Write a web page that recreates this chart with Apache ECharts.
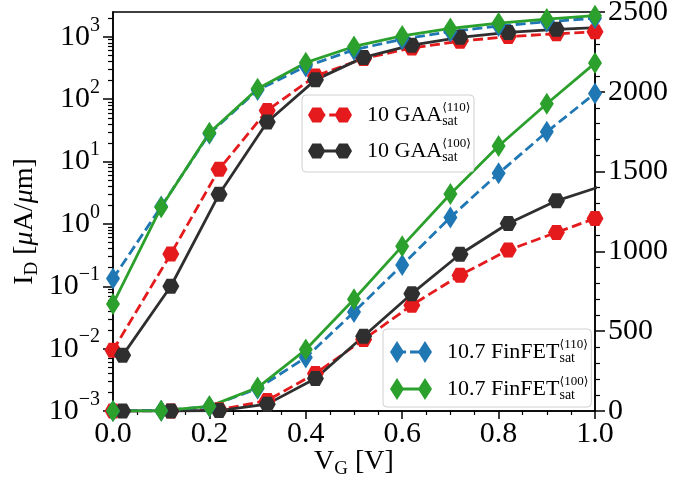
<!DOCTYPE html>
<html>
<head>
<meta charset="utf-8">
<script src="https://cdn.jsdelivr.net/npm/echarts@6/dist/echarts.min.js"></script>
<style>
  html, body { margin: 0; padding: 0; background: #fff; }
  #main { width: 683px; height: 481px; }
</style>
</head>
<body>
<div id="main"></div>
<script>
// gate voltage points (V)
var xFin = [0.0, 0.1, 0.2, 0.3, 0.4, 0.5, 0.6, 0.7, 0.8, 0.9, 1.0];
var xGaa110 = [0.0, 0.12, 0.22, 0.32, 0.42, 0.52, 0.62, 0.72, 0.82, 0.92, 1.0];
var xGaa100 = [0.02, 0.12, 0.22, 0.32, 0.42, 0.52, 0.62, 0.72, 0.82, 0.92, 1.02];

// drain current (uA/um), same data shown on log (left) and linear (right) axis
var gaa110 = [0.0094, 0.33, 7.5, 66, 235, 448, 663, 851, 1008, 1119, 1206];
var gaa100 = [0.0078, 0.10, 2.98, 43, 204, 468, 735, 982, 1175, 1317, 1415];
var fin110 = [0.133, 1.9, 28, 140, 335, 620, 915, 1213, 1489, 1749, 1990];
var fin100 = [0.052, 1.85, 29, 147, 385, 700, 1033, 1360, 1660, 1925, 2180];

var logTicks = [0.001, 0.01, 0.1, 1, 10, 100, 1000];

var FONT = '"Liberation Serif", "DejaVu Serif", serif';
var BRK = '"DejaVu Sans", "DejaVu Serif", sans-serif';
var RED = '#e41a1c', BLACK = '#2f2f2f', BLUE = '#1f77b4', GREEN = '#2ca02c';

var minorTicks = [];
for (var d = -3; d <= 3; d++) {
  for (var k = 2; k <= 9; k++) {
    var v = k * Math.pow(10, d);
    if (v <= 2500) minorTicks.push(+v.toPrecision(3));
  }
}

var HEX = 'path://M0,7.5L4.33,0L12.99,0L17.32,7.5L12.99,15L4.33,15Z';

function hexAt(cx) {
  return 'M' + (cx - 8.66) + ',7.5L' + (cx - 4.33) + ',0L' + (cx + 4.33) + ',0L' +
    (cx + 8.66) + ',7.5L' + (cx + 4.33) + ',15L' + (cx - 4.33) + ',15Z';
}
function diaAt(cx) {
  return 'M' + cx + ',0L' + (cx + 7) + ',11L' + cx + ',22L' + (cx - 7) + ',11Z';
}
function bar(x0, x1, y, h) {
  return 'M' + x0 + ',' + (y - h / 2) + 'L' + x1 + ',' + (y - h / 2) + 'L' + x1 + ',' + (y + h / 2) + 'L' + x0 + ',' + (y + h / 2) + 'Z';
}

var iconHexDash = 'path://' + hexAt(8.66) + bar(8.66, 17.26, 7.5, 2.8) + bar(21.26, 30.26, 7.5, 2.8) + hexAt(35.34);
var iconHexSolid = 'path://' + hexAt(8.66) + bar(8.66, 35.34, 7.5, 2.8) + hexAt(35.34);
var iconDiaDash = 'path://' + diaAt(7) + bar(7, 16, 11, 2.8) + bar(20, 29, 11, 2.8) + diaAt(35);
var iconDiaSolid = 'path://' + diaAt(7) + bar(7, 35, 11, 2.8) + diaAt(35);

function supsub(main, orient) {
  return '{m|' + main + '}{sb|sat}{ab|⟨}{sp|' + orient + '}{ab|⟩}';
}
var legendText = {
  'GAA110': supsub('10 GAA', '110'),
  'GAA100': supsub('10 GAA', '100'),
  'Fin110': supsub('10.7 FinFET', '110'),
  'Fin100': supsub('10.7 FinFET', '100')
};

var legendRich = {
  m: { fontFamily: FONT, fontSize: 22, color: '#000', lineHeight: 28, padding: [0, 0, 0, 10] },
  sb: { fontFamily: FONT, fontSize: 14, color: '#000', lineHeight: 28, width: 0, padding: [13, 0, 0, 0] },
  sp: { fontFamily: FONT, fontSize: 13, color: '#000', lineHeight: 28, padding: [0, 0, 15, 0] },
  ab: { fontFamily: BRK, fontSize: 12, color: '#000', lineHeight: 28, padding: [0, 0, 15, 0] }
};

function curve(name, xs, ys, yIdx, color, dashed, isHex) {
  return {
    name: name,
    type: 'line',
    yAxisIndex: yIdx,
    data: xs.map(function (x, i) { return [x, ys[i]]; }),
    symbol: isHex ? HEX : 'diamond',
    symbolSize: isHex ? [17, 15] : [14, 22],
    symbolKeepAspect: false,
    showAllSymbol: true,
    clip: true,
    itemStyle: { color: color },
    lineStyle: { color: color, width: 2.8, type: dashed ? [10, 4.5] : 'solid' },
    emphasis: { disabled: true },
    animation: false
  };
}

var series = [];
[0, 1].forEach(function (ax) {
  series.push(curve('GAA110', xGaa110, gaa110, ax, RED, true, true));
  series.push(curve('GAA100', xGaa100, gaa100, ax, BLACK, false, true));
  series.push(curve('Fin110', xFin, fin110, ax, BLUE, true, false));
  series.push(curve('Fin100', xFin, fin100, ax, GREEN, false, false));
});

function expLabel(v) {
  var e = Math.round(Math.log10(v));
  return '{b|10}{e|' + (e < 0 ? '\u2212' + (-e) : e) + '}';
}

var myChart = echarts.init(document.getElementById('main'), null, { renderer: 'canvas' });

var option = {
  backgroundColor: '#fff',
  animation: false,
  grid: {
    left: 113, right: 88, top: 12, bottom: 70,
    show: true, borderColor: '#000', borderWidth: 1.5,
    containLabel: false, outerBoundsMode: 'none'
  },
  legend: [
    {
      data: [{ name: 'GAA110', icon: iconHexDash }, { name: 'GAA100', icon: iconHexSolid }],
      orient: 'vertical', left: 302, top: 95,
      itemWidth: 44, itemHeight: 15, itemGap: 8,
      padding: [6, 3, 7, 6],
      backgroundColor: 'rgba(255,255,255,0.8)', borderColor: '#d0d0d0', borderWidth: 1, borderRadius: 4,
      selectedMode: false,
      formatter: function (n) { return legendText[n]; },
      textStyle: { rich: legendRich }
    },
    {
      data: [{ name: 'Fin110', icon: iconDiaDash }, { name: 'Fin100', icon: iconDiaSolid }],
      orient: 'vertical', left: 383, top: 329,
      itemWidth: 42, itemHeight: 22, itemGap: 9,
      padding: [9, 3, 4, 7],
      backgroundColor: 'rgba(255,255,255,0.8)', borderColor: '#d0d0d0', borderWidth: 1, borderRadius: 4,
      selectedMode: false,
      formatter: function (n) { return legendText[n]; },
      textStyle: { rich: legendRich }
    }
  ],
  xAxis: {
    type: 'value', min: 0, max: 1, interval: 0.2,
    name: '{n|V}{s|G}{n| [V]}',
    nameLocation: 'middle', nameGap: 36, nameMoveOverlap: false,
    nameTextStyle: {
      rich: {
        n: { fontFamily: FONT, fontSize: 28, color: '#000', lineHeight: 30 },
        s: { fontFamily: FONT, fontSize: 19, color: '#000', lineHeight: 30, padding: [15, 0, 0, 0] }
      }
    },
    axisLine: { lineStyle: { color: '#000', width: 1.5 } },
    axisTick: { length: 8, lineStyle: { color: '#000', width: 1.5 } },
    minorTick: { show: true, splitNumber: 4, length: 4, lineStyle: { color: '#000', width: 1.2 } },
    splitLine: { show: false },
    axisLabel: {
      margin: 8, fontFamily: FONT, fontSize: 30, color: '#000',
      formatter: function (v) { return v.toFixed(1); }
    }
  },
  yAxis: [
    {
      type: 'log', logBase: 10, min: 0.001, max: 2500, position: 'left',
      name: '{n|I}{s|D}{n| [}{i|μ}{n|A/}{i|μ}{n|m]}',
      nameLocation: 'middle', nameGap: 73, nameRotate: 90, nameMoveOverlap: false,
      nameTextStyle: {
        padding: [0, 20, 0, 0],
        rich: {
          n: { fontFamily: FONT, fontSize: 28, color: '#000', lineHeight: 30 },
          i: { fontFamily: FONT, fontSize: 28, fontStyle: 'italic', color: '#000', lineHeight: 30 },
          s: { fontFamily: FONT, fontSize: 19, color: '#000', lineHeight: 30, padding: [15, 0, 0, 0] }
        }
      },
      axisLine: { show: true, lineStyle: { color: '#000', width: 1.5 } },
      axisTick: { length: 10, customValues: logTicks, lineStyle: { color: '#000', width: 1.5 } },
      splitLine: { show: false },
      axisLabel: {
        margin: 13, customValues: logTicks, formatter: expLabel,
        rich: {
          b: { fontFamily: FONT, fontSize: 30, color: '#000', lineHeight: 34 },
          e: { fontFamily: FONT, fontSize: 20, color: '#000', lineHeight: 34, padding: [0, 0, 23, 0] }
        }
      }
    },
    {
      type: 'value', min: 0, max: 2500, interval: 500, position: 'right',
      axisLine: { show: true, lineStyle: { color: '#000', width: 1.5 } },
      axisTick: { length: 10, lineStyle: { color: '#000', width: 1.5 } },
      minorTick: { show: true, splitNumber: 5, length: 5, lineStyle: { color: '#000', width: 1.2 } },
      splitLine: { show: false },
      axisLabel: {
        margin: 13, fontFamily: FONT, fontSize: 30, color: '#000',
        formatter: function (v) { return String(v); }
      }
    },
    {
      // minor ticks of the log axis
      type: 'log', logBase: 10, min: 0.001, max: 2500, position: 'left',
      axisLine: { show: false },
      axisTick: { length: 5, customValues: minorTicks, lineStyle: { color: '#000', width: 1.2 } },
      axisLabel: { show: false },
      splitLine: { show: false }
    }
  ],
  series: series
};

myChart.setOption(option);
</script>
</body>
</html>
